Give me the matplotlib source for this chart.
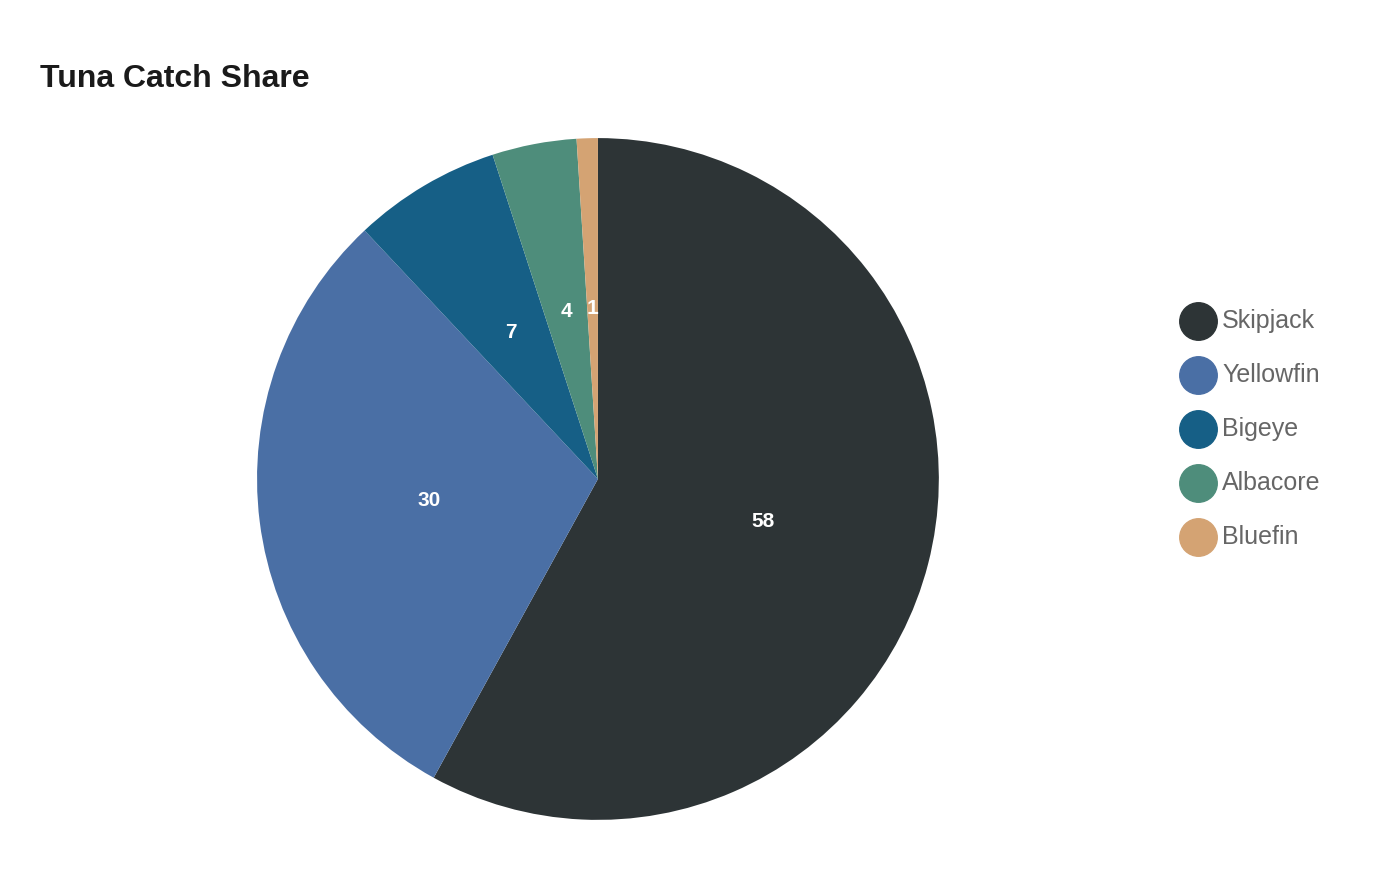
import matplotlib
matplotlib.use("Agg")
import matplotlib.pyplot as plt
from matplotlib.lines import Line2D

species = ["Skipjack", "Yellowfin", "Bigeye", "Albacore", "Bluefin"]
share = [58, 30, 7, 4, 1]
colors = ["#2d3436", "#4a6fa5", "#165f86", "#4e8d7b", "#d4a373"]

plt.rcParams['font.family'] = ['Liberation Sans', 'DejaVu Sans']

fig = plt.figure(figsize=(14, 8.8), dpi=100)
ax = fig.add_axes([0.1836, 0.0682, 0.487, 0.775])
wedges, texts = ax.pie(share, colors=colors, startangle=90, counterclock=False,
                       labels=[str(v) for v in share], labeldistance=0.5,
                       wedgeprops=dict(linewidth=0))
for t in texts:
    t.set_color("white")
    t.set_fontweight("bold")
    t.set_fontsize(15)
    t.set_ha("center")
    t.set_va("center")
ax.set_xlim(-1, 1)
ax.set_ylim(-1, 1)
ax.set_aspect("equal")

fig.text(40 / 1400, 1 - 79 / 880, "Tuna Catch Share", fontsize=23, fontweight="bold",
         color="#1a1a1a", va="center", ha="left")

for i, (name, c) in enumerate(zip(species, colors)):
    y = 1 - (321 + 54 * i) / 880
    fig.add_artist(Line2D([1198 / 1400], [y], marker="o", markersize=27, color=c,
                          linestyle="none", transform=fig.transFigure))
    fig.text(1222 / 1400, y, name, fontsize=18, color="#666666", va="center", ha="left")

fig.savefig("out.png", dpi=100)
